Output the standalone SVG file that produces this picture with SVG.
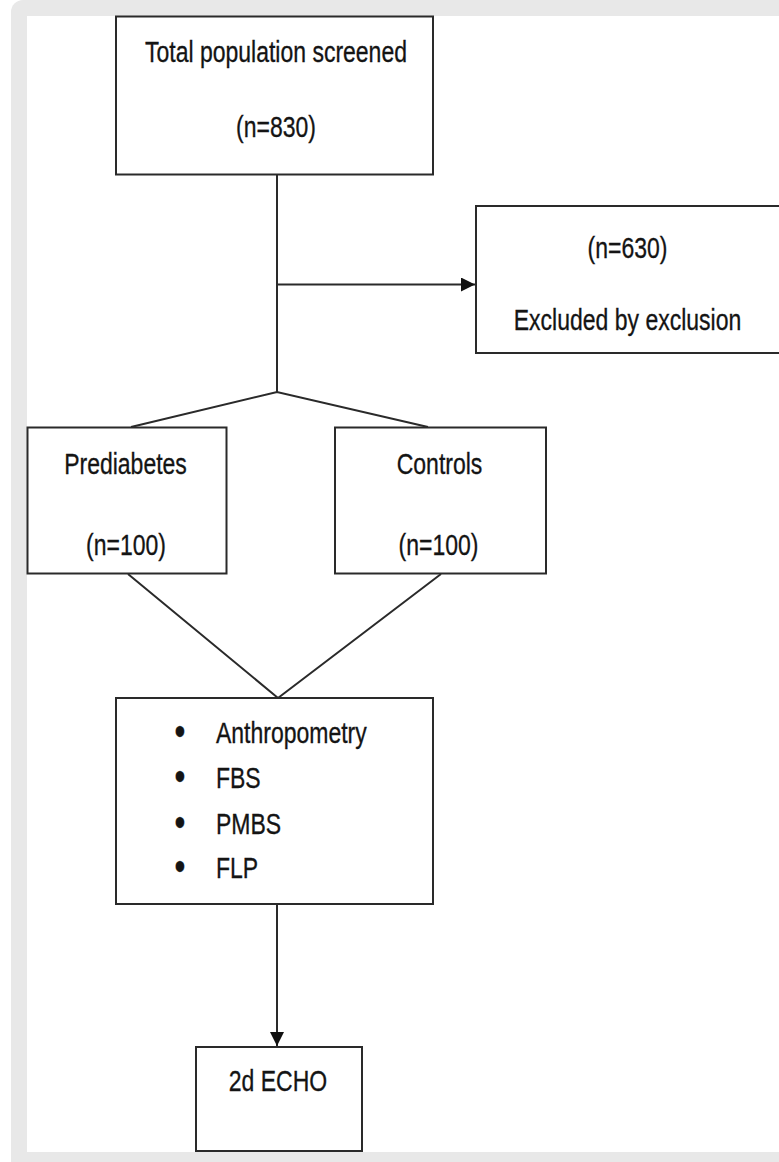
<svg xmlns="http://www.w3.org/2000/svg" width="779" height="1162" viewBox="0 0 779 1162">
  <style>
    .box { fill: #ffffff; stroke: #2a2a2a; stroke-width: 2; }
    .conn { fill: none; stroke: #2a2a2a; stroke-width: 2; }
    .t { font-family: "Liberation Sans", Arial, sans-serif; font-size: 23px; fill: #141414; stroke: #141414; stroke-width: 0.25; }
    .c { text-anchor: middle; }
    .b { font-size: 31px; }
  </style>
  <defs>
    <marker id="arrow" markerUnits="userSpaceOnUse" markerWidth="15" markerHeight="14" refX="14" refY="7" orient="auto">
      <path d="M0,0 L14,7 L0,14 Z" fill="#111111"/>
    </marker>
  </defs>
  <rect x="0" y="0" width="779" height="1162" fill="#ffffff"/>
  <rect x="11" y="0" width="790" height="1190" rx="12" ry="12" fill="#e8e8e8"/>
  <rect x="27" y="16" width="760" height="1136" fill="#ffffff"/>

  <g id="connectors">
    <line class="conn" x1="277" y1="175" x2="277" y2="392"/>
    <line class="conn" x1="277" y1="284.5" x2="475" y2="284.5" marker-end="url(#arrow)"/>
    <polyline class="conn" points="131,427 277,392 428,427"/>
    <polyline class="conn" points="128,574 278,698 441,574"/>
    <line class="conn" x1="277" y1="904" x2="277" y2="1046" marker-end="url(#arrow)"/>
  </g>

  <g id="node-total">
    <rect class="box" x="116" y="16.5" width="317" height="158"/>
    <text class="t c" transform="translate(276,62) scale(1,1.3)">Total population screened</text>
    <text class="t c" transform="translate(276,137) scale(1,1.3)">(n=830)</text>
  </g>

  <g id="node-excluded">
    <rect class="box" x="476" y="206" width="310" height="147"/>
    <text class="t c" transform="translate(627.5,258) scale(1,1.3)">(n=630)</text>
    <text class="t c" transform="translate(627.5,330) scale(1,1.3)">Excluded by exclusion</text>
  </g>

  <g id="node-prediabetes">
    <rect class="box" x="27.5" y="427.5" width="199" height="146"/>
    <text class="t c" transform="translate(125.5,474) scale(1,1.3)">Prediabetes</text>
    <text class="t c" transform="translate(126,555) scale(1,1.3)">(n=100)</text>
  </g>

  <g id="node-controls">
    <rect class="box" x="335" y="427.5" width="211" height="146"/>
    <text class="t c" transform="translate(439.5,474) scale(1,1.3)">Controls</text>
    <text class="t c" transform="translate(438.5,555) scale(1,1.3)">(n=100)</text>
  </g>

  <g id="node-tests">
    <rect class="box" x="116" y="698" width="317" height="206"/>
    <text class="t c b" transform="translate(180,745) scale(1,1.3)">•</text>
    <text class="t" transform="translate(216,743) scale(1,1.3)">Anthropometry</text>
    <text class="t c b" transform="translate(180,790) scale(1,1.3)">•</text>
    <text class="t" transform="translate(216,788) scale(1,1.3)">FBS</text>
    <text class="t c b" transform="translate(180,836) scale(1,1.3)">•</text>
    <text class="t" transform="translate(216,834) scale(1,1.3)">PMBS</text>
    <text class="t c b" transform="translate(180,880) scale(1,1.3)">•</text>
    <text class="t" transform="translate(216,878) scale(1,1.3)">FLP</text>
  </g>

  <g id="node-echo">
    <rect class="box" x="196" y="1047" width="166" height="104"/>
    <text class="t c" transform="translate(278,1091) scale(1,1.3)">2d ECHO</text>
  </g>
</svg>
